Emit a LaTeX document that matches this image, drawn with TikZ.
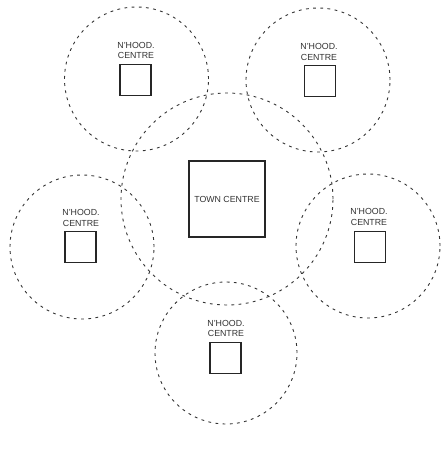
\documentclass[tikz,border=0pt]{standalone}
\usepackage{fontspec}
\setmainfont{Liberation Sans}
\begin{document}
\begin{tikzpicture}[x=1pt,y=-1pt,
  zone/.style={draw=black!80, circle, inner sep=0pt, line width=0.9pt,
    dash pattern=on 2.8pt off 4.4pt, minimum size=#1},
  zone/.default=144pt,
  hoodbox/.style={draw=black!85, line width=1.1pt, minimum size=31pt, inner sep=0pt},
  townbox/.style={draw=black!85, line width=1.1pt, minimum size=76pt, inner sep=0pt,
    font=\fontsize{8.8pt}{10.5pt}\selectfont, text=black!80},
  hoodlabel/.style={inner sep=0pt, align=center, text=black!80,
    font=\fontsize{8.8pt}{10.8pt}\selectfont}
]
\useasboundingbox (0,0) rectangle (441,468);

% catchment areas
\node[zone=212pt] (townzone) at (227,199) {};
\node[zone] (zoneTL) at (136.5,79) {};
\node[zone] (zoneTR) at (318,80) {};
\node[zone] (zoneL)  at (82,247) {};
\node[zone] (zoneR)  at (368,246) {};
\node[zone=142pt] (zoneB)  at (226,353) {};

% town centre
\node[townbox] (town) at (227,199) {TOWN CENTRE};

% neighbourhood centres
\node[hoodbox] (hoodTL) at (135.5,80) {};
\node[hoodlabel] (textTL) at (136,50.5) {N'HOOD.\\CENTRE};

\node[hoodbox] (hoodTR) at (320,81) {};
\node[hoodlabel] (textTR) at (319,52) {N'HOOD.\\CENTRE};

\node[hoodbox] (hoodL) at (80.5,247) {};
\node[hoodlabel] (textL) at (81,218) {N'HOOD.\\CENTRE};

\node[hoodbox] (hoodR) at (370,247) {};
\node[hoodlabel] (textR) at (369,217) {N'HOOD.\\CENTRE};

\node[hoodbox] (hoodB) at (225.5,358) {};
\node[hoodlabel] (textB) at (226,328.5) {N'HOOD.\\CENTRE};
\end{tikzpicture}
\end{document}
